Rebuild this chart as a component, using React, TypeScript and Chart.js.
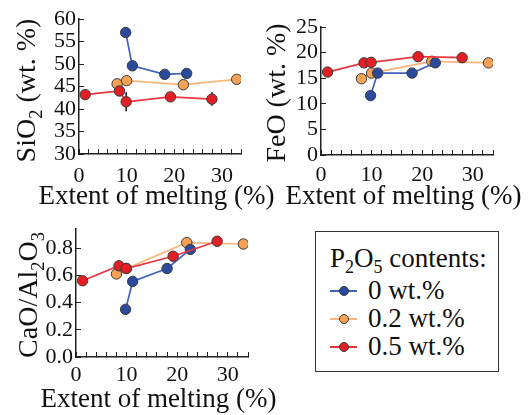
import React, { useEffect, useRef } from 'react';
import { Chart, registerables } from 'chart.js';

Chart.register(...registerables);

// ---------- data ----------
const seriesLabels = ['0 wt.%', '0.2 wt.%', '0.5 wt.%'];

const meltBlue = [9.8, 11.2, 18.0, 22.6];
const meltOrange = [8.0, 10.0, 21.9, 33.1];
const meltRed = [1.3, 8.5, 9.9, 19.2, 27.9];

const sio2Blue = [57.0, 49.6, 47.7, 47.9];
const sio2Orange = [45.6, 46.3, 45.4, 46.6];
const sio2Red = [43.2, 44.0, 41.6, 42.7, 42.2];
const sio2RedErr = [0, 0, 2.1, 0, 1.5];

const feoBlue = [11.6, 16.0, 16.0, 18.0];
const feoOrange = [14.9, 16.0, 18.3, 18.0];
const feoRed = [16.2, 18.0, 18.1, 19.2, 19.0];
const feoRedErr = [0, 0, 1.0, 0, 0.9];

const caoBlue = [0.35, 0.555, 0.65, 0.79];
const caoOrange = [0.61, 0.65, 0.84, 0.83];
const caoRed = [0.56, 0.67, 0.65, 0.74, 0.85];

const xTitle = 'Extent of melting (%)';
const xTickLabels = [0, 10, 20, 30];

// ---------- styles ----------
const FONT = '"Liberation Serif", "Times New Roman", serif';
const TEXT = '#111111';
const AXIS = '#222222';
const TICK_SIZE = 22;
const colors = {
  blue: { fill: '#2c4a9c', line: '#4263bd' },
  orange: { fill: '#f5a256', line: '#f8b67c' },
  red: { fill: '#e31f26', line: '#ea3540' },
};

type Seg = { t: string; sub?: boolean };

function pts(xs: number[], ys: number[]) {
  return xs.map((x, i) => ({ x, y: ys[i] }));
}

function ds(label: string, xs: number[], ys: number[], c: { fill: string; line: string }, err?: number[]) {
  return {
    label,
    data: pts(xs, ys),
    borderColor: c.line,
    backgroundColor: c.fill,
    pointBackgroundColor: c.fill,
    pointBorderColor: '#3a3a3a',
    pointBorderWidth: 1,
    pointRadius: 5.2,
    borderWidth: 1.7,
    showLine: true,
    tension: 0,
    errors: err,
  } as any;
}

const errorBarPlugin = {
  id: 'errbars',
  beforeDatasetsDraw(chart: any) {
    const ctx = chart.ctx;
    const ys = chart.scales.y;
    chart.data.datasets.forEach((d: any, di: number) => {
      if (!d.errors) return;
      const meta = chart.getDatasetMeta(di);
      d.data.forEach((p: any, i: number) => {
        const e = d.errors[i];
        if (!e) return;
        const el = meta.data[i];
        ctx.save();
        ctx.strokeStyle = '#111';
        ctx.lineWidth = 1.5;
        ctx.beginPath();
        ctx.moveTo(el.x, ys.getPixelForValue(p.y - e));
        ctx.lineTo(el.x, ys.getPixelForValue(p.y + e));
        ctx.stroke();
        ctx.restore();
      });
    });
  },
};

function titlesPlugin(segs: Seg[], baselineX: number, centerShift: number, size: number, xBaseline: number, xShift: number) {
  return {
    id: 'titles',
    afterDraw(chart: any) {
      const ctx = chart.ctx;
      const ca = chart.chartArea;
      // y title (rotated, with subscripts)
      const cy = (ca.top + ca.bottom) / 2 + centerShift;
      ctx.save();
      const parts = segs.map((s) => {
        const fs = s.sub ? size * 0.66 : size;
        ctx.font = `${fs}px ${FONT}`;
        return { s, fs, w: ctx.measureText(s.t).width };
      });
      const total = parts.reduce((a, p) => a + p.w, 0);
      ctx.translate(baselineX, cy);
      ctx.rotate(-Math.PI / 2);
      ctx.fillStyle = TEXT;
      ctx.textBaseline = 'alphabetic';
      ctx.textAlign = 'left';
      let x = -total / 2;
      parts.forEach((p) => {
        ctx.font = `${p.fs}px ${FONT}`;
        ctx.fillText(p.s.t, x, p.s.sub ? size * 0.24 : 0);
        x += p.w;
      });
      ctx.restore();
      // x title
      ctx.save();
      ctx.font = `27px ${FONT}`;
      ctx.fillStyle = TEXT;
      ctx.textAlign = 'center';
      ctx.textBaseline = 'alphabetic';
      ctx.fillText(xTitle, (ca.left + ca.right) / 2 + xShift, xBaseline);
      ctx.restore();
    },
  };
}

type PanelCfg = {
  datasets: any[];
  ymin: number;
  ymax: number;
  ystep: number;
  yfmt: (v: number) => string;
  yAxisWidth: number;
  xAxisHeight: number;
  padTop: number;
  padRight: number;
  xTickPad: number;
  title: Seg[];
  titleX: number;
  titleShift: number;
  xBaseline: number;
};

function Panel({ cfg, left, top, width, height }: { cfg: PanelCfg; left: number; top: number; width: number; height: number }) {
  const ref = useRef<HTMLCanvasElement>(null);
  useEffect(() => {
    if (!ref.current) return;
    const chart = new Chart(ref.current, {
      type: 'scatter',
      data: { datasets: cfg.datasets },
      options: {
        animation: false,
        responsive: false,
        devicePixelRatio: 1,
        layout: { padding: { left: 0, top: cfg.padTop, right: cfg.padRight, bottom: 0 } },
        plugins: { legend: { display: false }, tooltip: { enabled: false } },
        scales: {
          x: {
            type: 'linear',
            min: 0,
            max: 34,
            ticks: {
              stepSize: 2,
              includeBounds: false,
              autoSkip: false,
              maxRotation: 0,
              padding: cfg.xTickPad,
              color: TEXT,
              font: { family: FONT, size: TICK_SIZE, lineHeight: 1.0 },
              callback: (v: any) => (xTickLabels.includes(Number(v)) ? String(v) : ''),
            },
            grid: { drawOnChartArea: false, drawTicks: true, tickLength: -5, color: AXIS, lineWidth: 1 },
            border: { display: true, color: AXIS, width: 1.5 },
            afterFit: (s: any) => {
              s.height = cfg.xAxisHeight;
            },
          },
          y: {
            type: 'linear',
            min: cfg.ymin,
            max: cfg.ymax,
            ticks: {
              stepSize: cfg.ystep,
              includeBounds: false,
              autoSkip: false,
              padding: 8,
              color: TEXT,
              font: { family: FONT, size: TICK_SIZE, lineHeight: 1.0 },
              callback: (v: any) => cfg.yfmt(Number(v)),
            },
            grid: { drawOnChartArea: false, drawTicks: true, tickLength: -5, color: AXIS, lineWidth: 1 },
            border: { display: true, color: AXIS, width: 1.5 },
            afterFit: (s: any) => {
              s.width = cfg.yAxisWidth;
            },
          },
        },
      } as any,
      plugins: [errorBarPlugin, titlesPlugin(cfg.title, cfg.titleX, cfg.titleShift, 28, cfg.xBaseline, -3.5)],
    });
    return () => chart.destroy();
  }, []);
  return (
    <canvas
      ref={ref}
      width={width}
      height={height}
      style={{ position: 'absolute', left, top, width, height, display: 'block' }}
    />
  );
}

const sio2Cfg: PanelCfg = {
  datasets: [
    ds(seriesLabels[2], meltRed, sio2Red, colors.red, sio2RedErr),
    ds(seriesLabels[0], meltBlue, sio2Blue, colors.blue),
    ds(seriesLabels[1], meltOrange, sio2Orange, colors.orange),
  ],
  ymin: 30,
  ymax: 60,
  ystep: 5,
  yfmt: (v) => String(v),
  yAxisWidth: 79,
  xAxisHeight: 56,
  padTop: 13,
  padRight: 39,
  xTickPad: 16,
  title: [{ t: 'SiO' }, { t: '2', sub: true }, { t: ' (wt. %)' }],
  titleX: 35,
  titleShift: 4,
  xBaseline: 204,
};

const feoCfg: PanelCfg = {
  datasets: [
    ds(seriesLabels[2], meltRed, feoRed, colors.red, feoRedErr),
    ds(seriesLabels[0], meltBlue, feoBlue, colors.blue),
    ds(seriesLabels[1], meltOrange, feoOrange, colors.orange),
  ],
  ymin: 0,
  ymax: 25,
  ystep: 5,
  yfmt: (v) => String(v),
  yAxisWidth: 66,
  xAxisHeight: 55,
  padTop: 27,
  padRight: 35,
  xTickPad: 14,
  title: [{ t: 'FeO (wt. %)' }],
  titleX: 30,
  titleShift: 2,
  xBaseline: 204,
};

const caoCfg: PanelCfg = {
  datasets: [
    ds(seriesLabels[2], meltRed, caoRed, colors.red),
    ds(seriesLabels[0], meltBlue, caoBlue, colors.blue),
    ds(seriesLabels[1], meltOrange, caoOrange, colors.orange),
  ],
  ymin: 0,
  ymax: 0.94,
  ystep: 0.2,
  yfmt: (v) => v.toFixed(1),
  yAxisWidth: 76,
  xAxisHeight: 58,
  padTop: 16,
  padRight: 32,
  xTickPad: 12,
  title: [{ t: 'CaO/Al' }, { t: '2', sub: true }, { t: 'O' }, { t: '3', sub: true }],
  titleX: 37,
  titleShift: 2,
  xBaseline: 197,
};

function LegendBox() {
  const items = [
    { label: seriesLabels[0], c: colors.blue, top: 291 },
    { label: seriesLabels[1], c: colors.orange, top: 319 },
    { label: seriesLabels[2], c: colors.red, top: 347 },
  ];
  const txt: React.CSSProperties = { position: 'absolute', fontFamily: FONT, fontSize: 27, color: TEXT, lineHeight: '30px', whiteSpace: 'nowrap' };
  return (
    <div>
      <div
        style={{
          position: 'absolute',
          left: 315,
          top: 231,
          width: 182,
          height: 139,
          border: '1.5px solid #333',
          boxSizing: 'content-box',
        }}
      />
      <div style={{ ...txt, left: 330, top: 243 }}>
        P<sub style={{ fontSize: 18, verticalAlign: '-6px', lineHeight: 0 }}>2</sub>O
        <sub style={{ fontSize: 18, verticalAlign: '-6px', lineHeight: 0 }}>5</sub> contents:
      </div>
      {items.map((it) => (
        <div key={it.label}>
          <div style={{ position: 'absolute', left: 330, top: it.top - 1, width: 27, height: 1.6, background: it.c.line }} />
          <div
            style={{
              position: 'absolute',
              left: 338.5,
              top: it.top - 5,
              width: 8,
              height: 8,
              borderRadius: '50%',
              background: it.c.fill,
              border: '1px solid #3a3a3a',
            }}
          />
          <div style={{ ...txt, left: 368, top: it.top - 16 }}>{it.label}</div>
        </div>
      ))}
    </div>
  );
}

export default function App() {
  return (
    <div style={{ position: 'absolute', left: 0, top: 0, width: 528, height: 415, background: '#fff' }}>
      <Panel cfg={sio2Cfg} left={0} top={0} width={280} height={210} />
      <Panel cfg={feoCfg} left={255} top={0} width={273} height={210} />
      <Panel cfg={caoCfg} left={0} top={210} width={280} height={205} />
      <LegendBox />
    </div>
  );
}
